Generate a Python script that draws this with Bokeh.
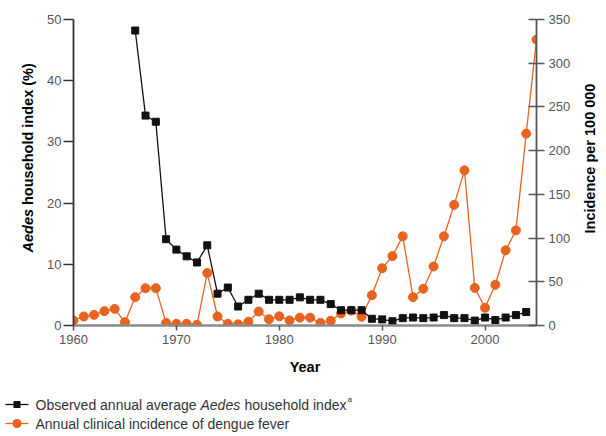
import math
from bokeh.plotting import figure
from bokeh.models import Range1d, LinearAxis, FixedTicker
from bokeh.embed import file_html
from bokeh.resources import INLINE
from bokeh.core.properties import value

# ---------------- data ----------------
index_years = list(range(1966, 2005))
aedes_index = [48.2, 34.3, 33.3, 14.1, 12.4, 11.3, 10.3, 13.1, 5.2, 6.2,
               3.1, 4.2, 5.2, 4.2, 4.2, 4.2, 4.6, 4.2, 4.2, 3.5,
               2.5, 2.5, 2.5, 1.1, 1.0, 0.7, 1.2, 1.3, 1.2, 1.3,
               1.7, 1.2, 1.2, 0.8, 1.3, 0.9, 1.3, 1.7, 2.2]

incidence_years = list(range(1960, 2006))
dengue_incidence = [5.7, 10.3, 12.2, 16.4, 19.0, 3.8, 32.4, 42.7, 42.7, 3.0,
                    1.9, 1.9, 0.8, 60.0, 10.3, 1.9, 1.3, 4.4, 16.0, 7.2,
                    10.5, 5.8, 9.0, 9.0, 3.0, 5.4, 13.7, 17.0, 9.9, 34.6,
                    65.5, 79.4, 102.0, 32.4, 42.0, 67.5, 102.0, 138.0, 177.5, 43.0,
                    20.3, 46.6, 86.0, 108.8, 219.5, 327.0]

x_ticks = [1960, 1970, 1980, 1990, 2000]
left_ticks = [0, 10, 20, 30, 40, 50]
right_ticks = [0, 50, 100, 150, 200, 250, 300, 350]

FONT = "Liberation Sans"
ORANGE = "#E8641E"
BLACK = "#111111"

# frame: x 73..536, y 19..325 in canvas pixels
FL, FR, FT, FB = 73, 536, 19, 325

p = figure(width=606, height=436, x_range=Range1d(1960, 2005), y_range=Range1d(0, 50),
           output_backend="svg", toolbar_location=None,
           min_border_left=FL, min_border_right=606 - FR, min_border_top=FT,
           min_border_bottom=436 - FB)
p.outline_line_color = None
p.xgrid.visible = False
p.ygrid.visible = False
p.background_fill_color = "white"
p.border_fill_color = "white"

p.extra_y_ranges = {"inc": Range1d(0, 350), "py": Range1d(FB, FT)}
p.extra_x_ranges = {"px": Range1d(FL, FR)}

# orange series (right axis)
p.line(incidence_years, dengue_incidence, y_range_name="inc", line_color=ORANGE, line_width=1.3)
p.scatter(incidence_years, dengue_incidence, y_range_name="inc", marker="circle", size=9,
          fill_color=ORANGE, line_color=ORANGE)

# black series (left axis)
p.line(index_years, aedes_index, line_color=BLACK, line_width=1.3)
p.scatter(index_years, aedes_index, marker="square", size=7, fill_color=BLACK, line_color=BLACK)

# x axis
xa = p.xaxis[0]
xa.ticker = FixedTicker(ticks=x_ticks)
xa.axis_line_color = "#8a8a8a"
xa.axis_line_width = 2.5
xa.major_tick_line_color = "#555555"
xa.major_tick_line_width = 1.5
xa.major_tick_out = 5
xa.major_tick_in = 0
xa.minor_tick_line_color = None
xa.major_label_text_font = FONT
xa.major_label_text_font_size = "13px"
xa.major_label_text_color = "#555555"
xa.major_label_standoff = 4
xa.axis_label = "Year"
xa.axis_label_text_font = FONT
xa.axis_label_text_font_style = "bold"
xa.axis_label_text_font_size = "14.5px"
xa.axis_label_text_color = "#000000"
xa.axis_label_standoff = 12

# left axis
ya = p.yaxis[0]
ya.ticker = FixedTicker(ticks=left_ticks)
ya.axis_line_color = "#333333"
ya.axis_line_width = 1.8
ya.major_tick_line_color = "#333333"
ya.major_tick_line_width = 1.5
ya.major_tick_out = 10
ya.major_tick_in = 0
ya.minor_tick_line_color = None
ya.major_label_text_font = FONT
ya.major_label_text_font_size = "13px"
ya.major_label_text_color = "#555555"
ya.major_label_standoff = 2

# right axis
ra = LinearAxis(y_range_name="inc", ticker=FixedTicker(ticks=right_ticks))
ra.axis_line_color = "#555555"
ra.axis_line_width = 1.8
ra.major_tick_line_color = "#555555"
ra.major_tick_line_width = 1.5
ra.major_tick_out = 8
ra.major_tick_in = 8
ra.minor_tick_line_color = None
ra.major_label_text_font = FONT
ra.major_label_text_font_size = "13px"
ra.major_label_text_color = "#555555"
ra.major_label_standoff = 4
p.add_layout(ra, "right")

# ---------- decorations placed in canvas pixels (overlay level: not clipped) ----------
def txt(s, x, y, style="normal", size="14px", color="#333333", angle=0.0, align="left"):
    p.text(x=[x], y=[y], text=[s], x_range_name="px", y_range_name="py", angle=angle,
           text_font=value(FONT), text_font_size=value(size), text_font_style=style,
           text_color=color, text_align=align, text_baseline="middle", level="overlay")

def seg(x0, x1, y, color, width, cap="butt"):
    p.line([x0, x1], [y, y], x_range_name="px", y_range_name="py", line_color=color,
           line_width=width, line_cap=cap, level="overlay")

# axis titles (rotated)
txt("Aedes", 27, 252, "bold italic", "14.5px", "#000000", math.pi / 2)
txt("household index (%)", 27, 252 - 47.5, "bold", "14.5px", "#000000", math.pi / 2)
txt("Incidence per 100 000", 589, 233, "bold", "14.5px", "#000000", math.pi / 2)

# legend (swatches: line + marker)
r1, r2 = 404, 423
seg(5, 28, r1, BLACK, 1.3)
seg(13, 20, r1, BLACK, 7)                       # square marker
seg(5, 28, r2, ORANGE, 1.3)
seg(16.45, 16.55, r2, ORANGE, 9, "round")       # round marker

txt("Observed annual average", 35, r1)
txt("Aedes", 200, r1, "italic")
txt("household index", 244, r1)
txt("a", 347, r1 - 5, size="8px")
txt("Annual clinical incidence of dengue fever", 35, r2)

open("out.html", "w").write(file_html(p, INLINE))
